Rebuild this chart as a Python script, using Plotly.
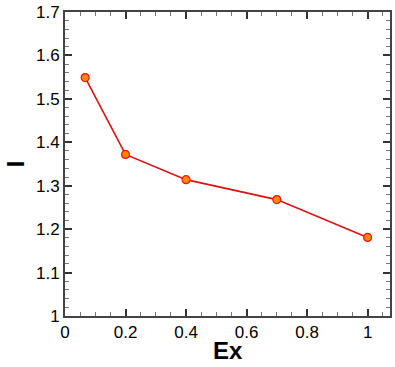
import plotly.graph_objects as go

ex = [0.0667, 0.2, 0.4, 0.7, 1.0]
i_vals = [1.549, 1.372, 1.314, 1.268, 1.181]
x_ticks = [0, 0.2, 0.4, 0.6, 0.8, 1]
y_ticks = [1, 1.1, 1.2, 1.3, 1.4, 1.5, 1.6, 1.7]

FONT = "Liberation Sans, Arial, sans-serif"

fig = go.Figure()
fig.add_trace(go.Scatter(
    x=ex, y=i_vals, mode="lines+markers",
    line=dict(color="#DD1111", width=1.6),
    marker=dict(size=8, color="#FF8800", line=dict(color="#EE1111", width=1.2)),
))

axis_common = dict(
    showgrid=False, zeroline=False, showline=True, linecolor="#444444", linewidth=2,
    ticks="inside", ticklen=7, tickwidth=1.5, tickcolor="#333333", mirror="ticks",
    tickfont=dict(family=FONT, size=17, color="black"),
)
fig.update_xaxes(
    range=[0, 1.074], tickvals=x_ticks, ticktext=[str(v) for v in x_ticks],
    minor=dict(dtick=0.05, ticklen=4, tickcolor="#777777", ticks="inside", tickwidth=1),
    ticklabelstandoff=0,
    **axis_common,
)
fig.update_yaxes(
    range=[1, 1.7], tickvals=y_ticks, ticktext=[str(v) for v in y_ticks],
    minor=dict(dtick=0.02, ticklen=4, tickcolor="#777777", ticks="inside", tickwidth=1),
    title=dict(text="<b>I</b>", font=dict(family=FONT, size=24, color="black"), standoff=5),
    **axis_common,
)
fig.add_annotation(
    text="<b>Ex</b>", xref="paper", yref="paper", x=0.5, y=-0.114,
    xanchor="center", yanchor="middle", showarrow=False, borderpad=0,
    font=dict(family=FONT, size=24, color="black"),
)
fig.update_layout(
    width=395, height=367, margin=dict(l=65, r=3, t=10, b=51),
    plot_bgcolor="white", paper_bgcolor="white", showlegend=False,
)
fig.write_html("out.html")
